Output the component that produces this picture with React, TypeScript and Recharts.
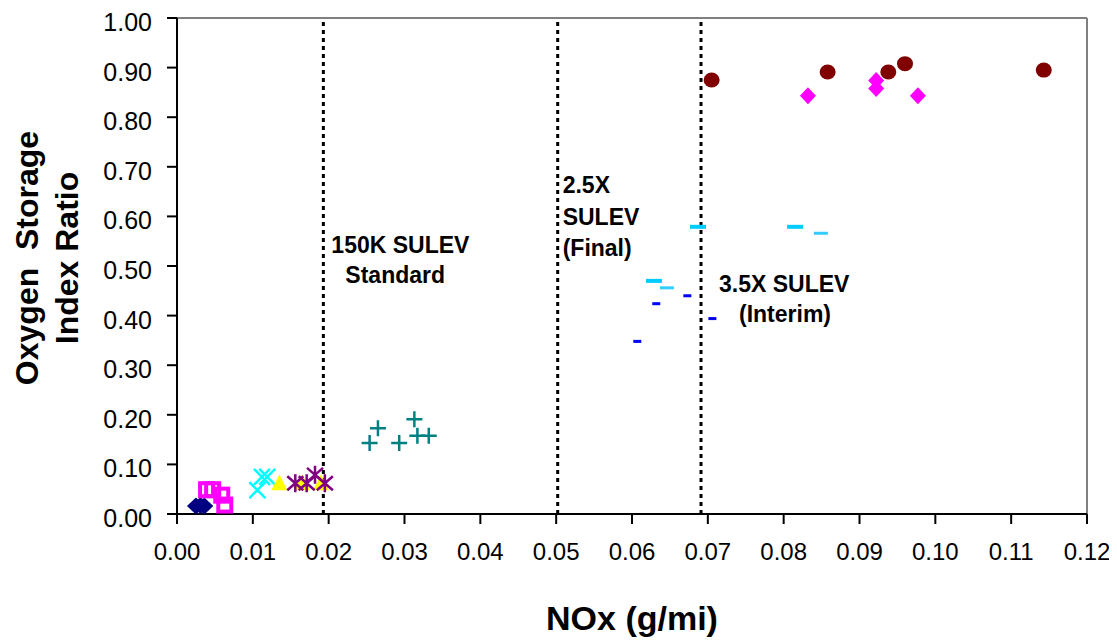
import {
  ScatterChart,
  Scatter,
  XAxis,
  YAxis,
  ReferenceLine,
  Label,
} from "recharts";

// values (x = NOx g/mi, y = OSI ratio)
const navyDiamonds = [
  { x: 0.0025, y: 0.016 },
  { x: 0.0031, y: 0.017 },
  { x: 0.0036, y: 0.016 },
];
const pinkSquares = [
  { x: 0.0039, y: 0.049 },
  { x: 0.0047, y: 0.049 },
  { x: 0.0059, y: 0.038 },
  { x: 0.0063, y: 0.018 },
];
const cyanCrosses = [
  { x: 0.0106, y: 0.048 },
  { x: 0.0112, y: 0.075 },
  { x: 0.0119, y: 0.075 },
];
const yellowTriangles = [
  { x: 0.0135, y: 0.062 },
  { x: 0.0165, y: 0.062 },
  { x: 0.019, y: 0.062 },
];
const purpleStars = [
  { x: 0.0156, y: 0.062 },
  { x: 0.0171, y: 0.062 },
  { x: 0.0182, y: 0.079 },
  { x: 0.0195, y: 0.062 },
];
const tealPlus = [
  { x: 0.0254, y: 0.143 },
  { x: 0.0265, y: 0.173 },
  { x: 0.0293, y: 0.143 },
  { x: 0.0313, y: 0.191 },
  { x: 0.0317, y: 0.158 },
  { x: 0.0332, y: 0.158 },
];
const skyDashWide = [
  { x: 0.0629, y: 0.47 },
  { x: 0.0687, y: 0.579 },
  { x: 0.0815, y: 0.579 },
];
const skyDashThin = [
  { x: 0.0646, y: 0.456 },
  { x: 0.0849, y: 0.566 },
];
const blueDash = [
  { x: 0.0607, y: 0.348 },
  { x: 0.0632, y: 0.424 },
  { x: 0.0673, y: 0.44 },
  { x: 0.0706, y: 0.394 },
];
const pinkDiamonds = [
  { x: 0.0832, y: 0.843 },
  { x: 0.0922, y: 0.874 },
  { x: 0.0922, y: 0.858 },
  { x: 0.0977, y: 0.843 },
];
const maroonDots = [
  { x: 0.0705, y: 0.875 },
  { x: 0.0858, y: 0.891 },
  { x: 0.0938, y: 0.891 },
  { x: 0.096, y: 0.908 },
  { x: 0.1143, y: 0.895 },
];

const xTicks = [0, 0.01, 0.02, 0.03, 0.04, 0.05, 0.06, 0.07, 0.08, 0.09, 0.1, 0.11, 0.12];
const yTicks = [0, 0.1, 0.2, 0.3, 0.4, 0.5, 0.6, 0.7, 0.8, 0.9, 1.0];

const standards = [
  { x: 0.0193, lines: ["150K SULEV", "Standard"], dx: [8, 22], dy: [235, 265] },
  { x: 0.0502, lines: ["2.5X", "SULEV", "(Final)"], dx: [5, 5, 5], dy: [175, 207, 238] },
  { x: 0.0691, lines: ["3.5X SULEV", "(Interim)"], dx: [18, 38], dy: [274, 304] },
];

const FONT = "'Liberation Sans', Arial, sans-serif";

const shapes: Record<string, (p: any) => any> = {
  navy: ({ cx, cy }) => (
    <polygon points={`${cx},${cy - 8.5} ${cx + 9},${cy} ${cx},${cy + 8.5} ${cx - 9},${cy}`} fill="#000080" />
  ),
  pinkSq: ({ cx, cy }) => (
    <rect x={cx - 6.5} y={cy - 6.5} width={13} height={13} fill="none" stroke="#FF00FF" strokeWidth={4} />
  ),
  cyanX: ({ cx, cy }) => (
    <path d={`M${cx - 8},${cy - 8}L${cx + 8},${cy + 8}M${cx - 8},${cy + 8}L${cx + 8},${cy - 8}`} stroke="#00FFFF" strokeWidth={2.5} />
  ),
  yellowTri: ({ cx, cy }) => (
    <polygon points={`${cx},${cy - 9} ${cx + 8},${cy + 7} ${cx - 8},${cy + 7}`} fill="#FFFF00" />
  ),
  purpleStar: ({ cx, cy }) => (
    <path
      d={`M${cx - 8},${cy - 7}L${cx + 8},${cy + 7}M${cx - 8},${cy + 7}L${cx + 8},${cy - 7}M${cx},${cy - 9}L${cx},${cy + 9}`}
      stroke="#800080"
      strokeWidth={2.5}
    />
  ),
  teal: ({ cx, cy }) => (
    <path d={`M${cx - 8},${cy}L${cx + 8},${cy}M${cx},${cy - 8}L${cx},${cy + 8}`} stroke="#008080" strokeWidth={2.5} />
  ),
  skyWide: ({ cx, cy }) => <rect x={cx - 8} y={cy - 2} width={16} height={4} fill="#00CCFF" />,
  skyThin: ({ cx, cy }) => <rect x={cx - 7} y={cy - 1.5} width={14} height={3} fill="#33CCFF" />,
  blue: ({ cx, cy }) => <rect x={cx - 4} y={cy - 1.5} width={8} height={3} fill="#0000FF" />,
  pinkDia: ({ cx, cy }) => (
    <polygon points={`${cx},${cy - 8.5} ${cx + 8},${cy} ${cx},${cy + 8.5} ${cx - 8},${cy}`} fill="#FF00FF" />
  ),
  maroon: ({ cx, cy }) => <ellipse cx={cx} cy={cy} rx={8} ry={7.5} fill="#800000" />,
};

const series: [any[], string][] = [
  [navyDiamonds, "navy"],
  [pinkSquares, "pinkSq"],
  [cyanCrosses, "cyanX"],
  [yellowTriangles, "yellowTri"],
  [purpleStars, "purpleStar"],
  [tealPlus, "teal"],
  [skyDashWide, "skyWide"],
  [skyDashThin, "skyThin"],
  [blueDash, "blue"],
  [pinkDiamonds, "pinkDia"],
  [maroonDots, "maroon"],
];

const XTick = ({ x, y, payload }: any) => (
  <text x={x} y={y} dy={18} textAnchor="middle" fontSize={24} fontFamily={FONT} fill="#000">
    {payload.value.toFixed(2)}
  </text>
);

const YTick = ({ x, y, payload }: any) => (
  <text x={x} y={y} dy={13} textAnchor="end" fontSize={25} fontFamily={FONT} fill="#000">
    {payload.value.toFixed(2)}
  </text>
);

export default function App() {
  return (
    <div style={{ width: 1109, height: 635 }}>
      <ScatterChart
        width={1109}
        height={635}
        margin={{ top: 10, right: 30, bottom: 9, left: 0 }}
        style={{ overflow: "visible" }}
      >
        <XAxis
          type="number"
          dataKey="x"
          domain={[0, 0.12]}
          ticks={xTicks}
          interval={0}
          tick={<XTick />}
          tickSize={10}
          tickMargin={18}
          height={120}
          stroke="#000"
          strokeWidth={2}
        >
          <Label
            content={({ viewBox }: any) => (
              <text
                x={viewBox.x + viewBox.width / 2}
                y={viewBox.y + 116}
                textAnchor="middle"
                fontSize={34}
                fontWeight="bold"
                fontFamily={FONT}
                fill="#000"
              >
                NOx (g/mi)
              </text>
            )}
          />
        </XAxis>
        <YAxis
          type="number"
          dataKey="y"
          domain={[0, 1]}
          ticks={yTicks}
          interval={0}
          tick={<YTick />}
          tickSize={10}
          tickMargin={15}
          width={169}
          stroke="#000"
          strokeWidth={2}
        >
          <Label
            content={({ viewBox }: any) => {
              const cy = viewBox.y + viewBox.height / 2 - 8;
              return (
                <g fontSize={32} fontWeight="bold" fontFamily={FONT} fill="#000" textAnchor="middle">
                  <text x={30} y={cy} transform={`rotate(-90 30 ${cy})`} style={{ whiteSpace: "pre" }}>
                    {"Oxygen  Storage"}
                  </text>
                  <text x={70} y={cy} transform={`rotate(-90 70 ${cy})`}>
                    Index Ratio
                  </text>
                </g>
              );
            }}
          />
        </YAxis>
        <ReferenceLine y={1} stroke="#808080" strokeWidth={2} />
        <ReferenceLine x={0.12} stroke="#808080" strokeWidth={2} />
        {standards.map((s) => (
          <ReferenceLine
            key={s.x}
            x={s.x}
            stroke="#000"
            strokeWidth={3}
            strokeDasharray="4 4"
            label={(props: any) => {
              const vb = props.viewBox;
              return (
                <g fontSize={23} fontWeight="bold" fontFamily={FONT} fill="#000">
                  {s.lines.map((t, i) => (
                    <text key={t} x={vb.x + s.dx[i]} y={vb.y + s.dy[i]}>
                      {t}
                    </text>
                  ))}
                </g>
              );
            }}
          />
        ))}
        {series.map(([data, key]) => (
          <Scatter key={key} data={data} shape={shapes[key]} isAnimationActive={false} />
        ))}
      </ScatterChart>
    </div>
  );
}
